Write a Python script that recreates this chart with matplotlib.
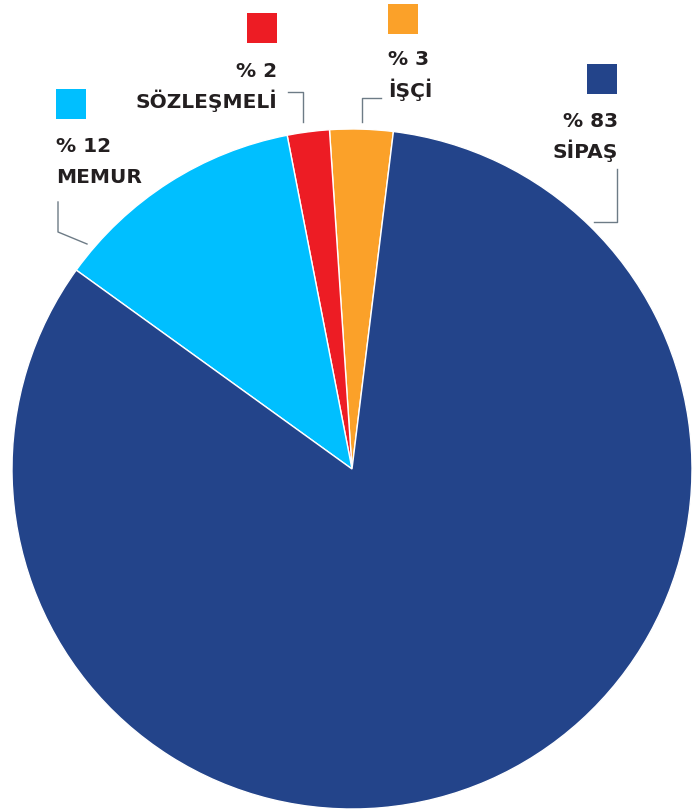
import matplotlib.pyplot as plt

labels = ['İŞÇİ', 'SÖZLEŞMELİ', 'MEMUR', 'SİPAŞ']
values = [3, 2, 12, 83]
colors = ['#FBA129', '#ED1C24', '#00BFFF', '#23448A']

H = 812
fig = plt.figure(figsize=(6.98, 8.12), dpi=100)
ax = fig.add_axes([0, 0, 1, 1])

ax.pie(values, colors=colors, startangle=83, counterclock=True,
       radius=340, center=(352, H - 470),
       wedgeprops=dict(edgecolor='white', linewidth=1))
ax.set_xlim(0, 698)
ax.set_ylim(0, H)
ax.set_aspect('auto')
ax.axis('off')

# legend boxes: (square x, square y top, text anchor x, alignment, pct baseline, name baseline)
layout = {
    'MEMUR': (56, 90, 56, 'left', 152, 183),
    'SÖZLEŞMELİ': (247, 14, 277, 'right', 77, 108),
    'İŞÇİ': (388, 5, 388, 'left', 65, 97),
    'SİPAŞ': (587, 65, 618, 'right', 127, 158),
}
txt = '#231F20'
for lab, val, col in zip(labels, values, colors):
    sx, sy, tx, ha, py, ny = layout[lab]
    ax.add_patch(plt.Rectangle((sx, H - sy - 30), 30, 30, color=col, lw=0))
    ax.text(tx, H - py, f'% {val}', ha=ha, va='baseline', fontsize=14.5,
            fontweight='bold', color=txt, family='DejaVu Sans')
    ax.text(tx, H - ny, lab, ha=ha, va='baseline', fontsize=14.5,
            fontweight='bold', color=txt, family='DejaVu Sans')

# leader lines
lc = '#6D7B86'
leaders = [
    ([58, 58, 87], [203, 233, 245]),
    ([288, 303, 303], [93, 93, 123]),
    ([381, 362, 362], [99, 99, 123]),
    ([617, 617, 594], [170, 223, 223]),
]
for xs, ys in leaders:
    ax.plot(xs, [H - y for y in ys], color=lc, lw=1)

fig.savefig('out.png', dpi=100)
